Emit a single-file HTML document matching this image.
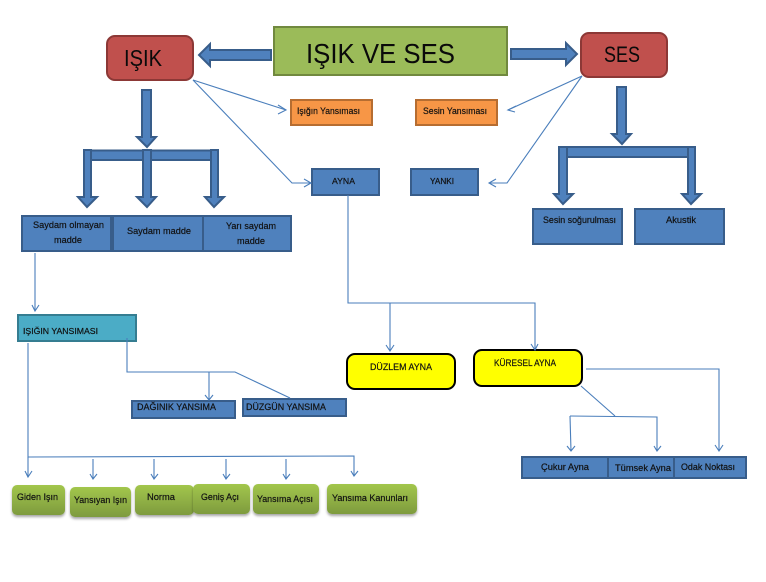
<!DOCTYPE html>
<html><head><meta charset="utf-8"><style>
html,body{margin:0;padding:0;background:#fff;width:766px;height:582px;overflow:hidden}
svg{display:block}
text{font-family:"Liberation Sans",sans-serif;fill:#111;font-size:9.5px;stroke:#111;stroke-width:.2}
.t{stroke-width:0;fill:#0a0a0a}
.b{fill:#4F81BD;stroke:#385D8A;stroke-width:2}
.o{fill:#F79646;stroke:#B66D31;stroke-width:2}
.r{fill:#C0504D;stroke:#8C3836;stroke-width:2}
.y{fill:#FFFF00;stroke:#000;stroke-width:2}
.g{fill:url(#gr);filter:url(#sh)}
.l{fill:none;stroke:#4A7EBB;stroke-width:1.1}
.h{fill:none;stroke:#4A7EBB;stroke-width:1.1}
</style></head><body>
<svg width="766" height="582" viewBox="0 0 766 582" xmlns="http://www.w3.org/2000/svg">
<defs>
<linearGradient id="gr" x1="0" y1="0" x2="0" y2="1"><stop offset="0" stop-color="#A2C64C"/><stop offset="1" stop-color="#7E9B3E"/></linearGradient>
<filter id="sh" x="-10%" y="-10%" width="120%" height="130%"><feDropShadow dx="0" dy="2" stdDeviation="1.2" flood-color="#000" flood-opacity="0.35"/></filter>
</defs>

<!-- title -->
<rect x="274" y="27" width="233" height="48" fill="#9BBB59" stroke="#71893F" stroke-width="2"/>
<text class="t" x="306" y="63" style="font-size:28px" textLength="149" lengthAdjust="spacingAndGlyphs">IŞIK VE SES</text>

<rect class="r" x="107" y="36" width="86" height="44" rx="8"/>
<text class="t" x="124" y="66" style="font-size:23.5px" textLength="38" lengthAdjust="spacingAndGlyphs">IŞIK</text>
<rect class="r" x="581" y="33" width="86" height="44" rx="8"/>
<text class="t" x="604" y="62" style="font-size:22.5px" textLength="36" lengthAdjust="spacingAndGlyphs">SES</text>

<!-- block arrows -->
<g fill="#4F81BD" stroke="#385D8A" stroke-width="2">
<polygon points="271,50 210,50 210,44 199,55 210,66 210,60 271,60"/>
<polygon points="511,49 566,49 566,43 577,54 566,65 566,59 511,59"/>
<polygon points="142,90 151,90 151,137 156,137 147,147 137,137 142,137"/>
<rect x="84" y="150.500" width="134" height="9.500"/>
<polygon points="84,150 91,150 91,197 97,197 87,207 78,197 84,197"/>
<polygon points="143,150 151,150 151,197 156,197 147,207 137,197 143,197"/>
<polygon points="211,150 218,150 218,197 224,197 214,207 205,197 211,197"/>
<polygon points="617,87 626,87 626,134 631,134 622,144 612,134 617,134"/>
<rect x="559" y="147" width="136" height="10"/>
<polygon points="559,147 567,147 567,194 573,194 563,204 554,194 559,194"/>
<polygon points="688,147 695,147 695,194 701,194 691,204 682,194 688,194"/>
</g>

<!-- blue boxes -->
<rect class="b" x="22" y="216" width="89" height="35"/>
<rect class="b" x="113" y="216" width="90" height="35"/>
<rect class="b" x="203" y="216" width="88" height="35"/>
<text x="33" y="228" textLength="71" lengthAdjust="spacingAndGlyphs">Saydam olmayan</text>
<text x="54" y="243" textLength="28" lengthAdjust="spacingAndGlyphs">madde</text>
<text x="127" y="234" textLength="64" lengthAdjust="spacingAndGlyphs">Saydam madde</text>
<text x="226" y="229" textLength="50" lengthAdjust="spacingAndGlyphs">Yarı saydam</text>
<text x="237" y="244" textLength="28" lengthAdjust="spacingAndGlyphs">madde</text>

<rect class="o" x="291" y="100" width="81" height="25"/>
<text x="297" y="114" textLength="63" lengthAdjust="spacingAndGlyphs">Işığın Yansıması</text>
<rect class="o" x="416" y="100" width="81" height="25"/>
<text x="423" y="114" textLength="64" lengthAdjust="spacingAndGlyphs">Sesin Yansıması</text>

<rect class="b" x="312" y="169" width="67" height="26"/>
<text x="332" y="184" style="font-size:8px" textLength="23" lengthAdjust="spacingAndGlyphs">AYNA</text>
<rect class="b" x="411" y="169" width="67" height="26"/>
<text x="430" y="184" style="font-size:8px" textLength="24" lengthAdjust="spacingAndGlyphs">YANKI</text>

<rect class="b" x="533" y="209" width="89" height="35"/>
<text x="543" y="223" textLength="73" lengthAdjust="spacingAndGlyphs">Sesin soğurulması</text>
<rect class="b" x="635" y="209" width="89" height="35"/>
<text x="666" y="223" textLength="30" lengthAdjust="spacingAndGlyphs">Akustik</text>

<rect x="18" y="315" width="118" height="26" fill="#4BACC6" stroke="#357D91" stroke-width="2"/>
<text x="23" y="334" style="font-size:8.5px" textLength="75" lengthAdjust="spacingAndGlyphs">IŞIĞIN YANSIMASI</text>

<rect class="b" x="132" y="401" width="103" height="17"/>
<text x="137" y="410" textLength="79" lengthAdjust="spacingAndGlyphs">DAĞINIK YANSIMA</text>
<rect class="b" x="243" y="399" width="103" height="17"/>
<text x="246" y="410" textLength="80" lengthAdjust="spacingAndGlyphs">DÜZGÜN YANSIMA</text>

<rect class="y" x="347" y="354" width="108" height="35" rx="8"/>
<text x="370" y="370" textLength="62" lengthAdjust="spacingAndGlyphs">DÜZLEM AYNA</text>
<rect class="y" x="474" y="350" width="108" height="36" rx="8"/>
<text x="494" y="366" textLength="62" lengthAdjust="spacingAndGlyphs">KÜRESEL AYNA</text>

<rect class="b" x="522" y="457" width="86" height="21"/>
<rect class="b" x="608" y="457" width="66" height="21"/>
<rect class="b" x="674" y="457" width="72" height="21"/>
<text x="541" y="470" textLength="48" lengthAdjust="spacingAndGlyphs">Çukur Ayna</text>
<text x="615" y="471" textLength="56" lengthAdjust="spacingAndGlyphs">Tümsek Ayna</text>
<text x="681" y="470" textLength="54" lengthAdjust="spacingAndGlyphs">Odak Noktası</text>

<!-- green pills -->
<rect class="g" x="12" y="485" width="53" height="30" rx="5"/>
<rect class="g" x="70" y="487" width="61" height="30" rx="5"/>
<rect class="g" x="135" y="485" width="59" height="30" rx="5"/>
<rect class="g" x="193" y="484" width="57" height="30" rx="5"/>
<rect class="g" x="253" y="484" width="66" height="30" rx="5"/>
<rect class="g" x="327" y="484" width="90" height="30" rx="5"/>
<text x="17" y="500" textLength="41" lengthAdjust="spacingAndGlyphs">Giden Işın</text>
<text x="74" y="503" textLength="53" lengthAdjust="spacingAndGlyphs">Yansıyan Işın</text>
<text x="147" y="500" textLength="28" lengthAdjust="spacingAndGlyphs">Norma</text>
<text x="201" y="500" textLength="38" lengthAdjust="spacingAndGlyphs">Geniş Açı</text>
<text x="257" y="502" textLength="56" lengthAdjust="spacingAndGlyphs">Yansıma Açısı</text>
<text x="332" y="501" textLength="76" lengthAdjust="spacingAndGlyphs">Yansıma Kanunları</text>

<!-- connectors -->
<g class="l">
<path class="l" d="M193,80 L286,110"/>
<path class="h" d="M278,105 L286,110 L278,114"/>
<path class="l" d="M193,80 L292,183 L311,183"/>
<path class="h" d="M304,179 L311,183 L304,187"/>
<path class="l" d="M582,76 L508,110"/>
<path class="h" d="M516,106 L508,110 L515,112"/>
<path class="l" d="M582,76 L507,183 L489,183"/>
<path class="h" d="M496,179 L489,183 L496,187"/>
<path class="l" d="M348,195 L348,303 L535,303 L535,350"/>
<path class="h" d="M531,344 L535,350 L538,344"/>
<path class="l" d="M390,303 L390,351"/>
<path class="h" d="M386,345 L390,351 L394,345"/>
<path class="l" d="M35,253 L35,311"/>
<path class="h" d="M32,305 L35,311 L39,305"/>
<path class="l" d="M127,338 L127,372 L235,372 L290,398"/>
<path class="l" d="M209,372 L209,400"/>
<path class="h" d="M205,395 L209,400 L213,395"/>
<path class="l" d="M28,343 L28,457 L354,456 L354,476"/>
<path class="h" d="M25,471 L28,477 L32,471"/>
<path class="l" d="M28,457 L28,477"/>
<path class="l" d="M93,459 L93,479"/><path class="h" d="M90,474 L93,479 L97,474"/>
<path class="l" d="M154,459 L154,479"/><path class="h" d="M151,474 L154,479 L158,474"/>
<path class="l" d="M226,459 L226,479"/><path class="h" d="M223,474 L226,479 L230,474"/>
<path class="l" d="M286,459 L286,479"/><path class="h" d="M283,474 L286,479 L290,474"/>
<path class="h" d="M351,471 L354,476 L358,471"/>
<path class="l" d="M586,369 L719,369 L719,450"/>
<path class="h" d="M715,445 L719,451 L723,445"/>
<path class="l" d="M581,386 L615,416"/>
<path class="l" d="M570,416 L657,417 L657,451"/>
<path class="l" d="M570,416 L571,451"/>
<path class="h" d="M567,446 L571,451 L575,446"/>
<path class="h" d="M654,446 L657,451 L661,446"/>
</g>
</svg>
</body></html>
